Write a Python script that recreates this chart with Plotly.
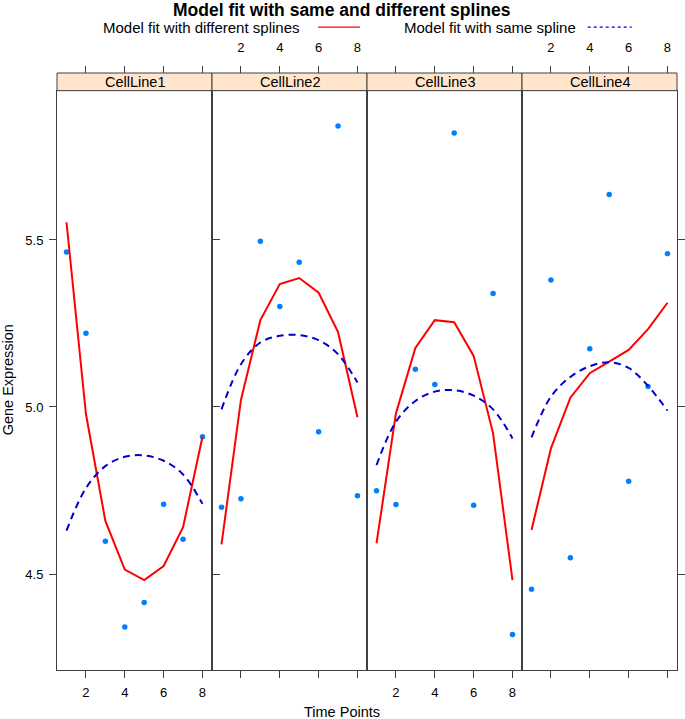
import plotly.graph_objects as go

# values
time_points = [1, 2, 3, 4, 5, 6, 7, 8]
cell_lines = ["CellLine1", "CellLine2", "CellLine3", "CellLine4"]

observed_cl1 = [5.464, 5.221, 4.598, 4.341, 4.415, 4.709, 4.604, 4.911]
observed_cl2 = [4.700, 4.725, 5.496, 5.301, 5.433, 4.926, 5.841, 4.734]
observed_cl3 = [4.749, 4.708, 5.113, 5.067, 5.820, 4.706, 5.340, 4.319]
observed_cl4 = [4.454, 5.380, 4.549, 5.174, 5.636, 4.778, 5.061, 5.459]

diff_fit_cl1 = [5.553, 4.979, 4.659, 4.513, 4.482, 4.524, 4.640, 4.911]
diff_fit_cl2 = [4.589, 5.021, 5.260, 5.368, 5.386, 5.342, 5.224, 4.969]
diff_fit_cl3 = [4.592, 4.981, 5.177, 5.260, 5.254, 5.153, 4.921, 4.482]
diff_fit_cl4 = [4.632, 4.876, 5.028, 5.101, 5.136, 5.171, 5.233, 5.312]

same_fit_cl1 = [4.630, 4.757, 4.823, 4.851, 4.855, 4.839, 4.798, 4.710]
same_fit_cl2 = [4.993, 5.128, 5.193, 5.213, 5.215, 5.200, 5.158, 5.073]
same_fit_cl3 = [4.826, 4.956, 5.018, 5.046, 5.050, 5.034, 4.993, 4.906]
same_fit_cl4 = [4.909, 5.031, 5.090, 5.122, 5.134, 5.117, 5.063, 4.989]

x_ticks = [2, 4, 6, 8]
y_ticks = [4.5, 5.0, 5.5]
y_tick_labels = ["4.5", "5.0", "5.5"]

observed = [observed_cl1, observed_cl2, observed_cl3, observed_cl4]
diff_fit = [diff_fit_cl1, diff_fit_cl2, diff_fit_cl3, diff_fit_cl4]
same_fit = [same_fit_cl1, same_fit_cl2, same_fit_cl3, same_fit_cl4]

FONT = "Liberation Sans, Arial, sans-serif"
FRAME = "#404040"
X_RANGE = [0.51, 8.49]
Y_RANGE = [4.2126, 5.947]
PANEL_TOP = 0.9704  # strip sits above this, up to paper y = 1


def axis_name(i: int) -> str:
    return "x" if i == 1 else f"x{i}"


def base_xaxis(domain: list, show_labels: bool) -> dict:
    return dict(
        domain=domain, range=X_RANGE, tickvals=x_ticks, ticks="outside",
        ticklen=7, tickcolor=FRAME, showticklabels=show_labels,
        showline=True, linecolor=FRAME, linewidth=1, mirror=True,
        showgrid=False, zeroline=False, anchor="y", ticklabelstandoff=3,
        automargin=False, tickfont=dict(size=13, color="black"),
    )


def label(text, x, y, size, **kw):
    fig.add_annotation(
        text=text, xref="paper", yref="paper", x=x, y=y, showarrow=False,
        yanchor="middle", font=dict(size=size, color="black", family=FONT), **kw
    )


fig = go.Figure()

n = len(cell_lines)
for k in range(n):
    xa = axis_name(k + 1)
    fig.add_trace(go.Scatter(
        x=time_points, y=observed[k], xaxis=xa, yaxis="y", mode="markers",
        marker=dict(color="#0080ff", size=5.5), showlegend=False,
    ))
    fig.add_trace(go.Scatter(
        x=time_points, y=diff_fit[k], xaxis=xa, yaxis="y", mode="lines",
        line=dict(color="#ff0000", width=2), showlegend=False,
    ))
    fig.add_trace(go.Scatter(
        x=time_points, y=same_fit[k], xaxis=xa, yaxis="y", mode="lines",
        line=dict(color="#0000cc", width=2, dash="7px,5px", shape="spline"),
        showlegend=False,
    ))

layout_axes = {}
for k in range(n):
    dom = [k / n, (k + 1) / n]
    # bottom labels on panels 1 and 3, top labels on 2 and 4
    layout_axes["xaxis" if k == 0 else f"xaxis{k + 1}"] = base_xaxis(dom, k % 2 == 0)
    top_id = n + k + 1
    layout_axes[f"xaxis{top_id}"] = dict(
        overlaying=axis_name(k + 1), side="top", anchor="free", position=1.0,
        range=X_RANGE, tickvals=x_ticks, ticks="outside", ticklen=7,
        tickcolor=FRAME, showticklabels=(k % 2 == 1), showline=False,
        showgrid=False, zeroline=False, ticklabelstandoff=9, automargin=False,
        tickfont=dict(size=13, color="black"),
    )
    # invisible trace so the top axis is drawn
    fig.add_trace(go.Scatter(
        x=[None], y=[None], xaxis=f"x{top_id}", yaxis="y",
        mode="markers", showlegend=False, hoverinfo="skip",
    ))

fig.add_trace(go.Scatter(
    x=[None], y=[None], xaxis=axis_name(n), yaxis="y2",
    mode="markers", showlegend=False, hoverinfo="skip",
))

fig.update_layout(
    width=685, height=719,
    margin=dict(l=57, r=8, t=73, b=49),
    paper_bgcolor="white", plot_bgcolor="white",
    font=dict(family=FONT, size=13, color="black"),
    showlegend=False,
    yaxis=dict(
        domain=[0, PANEL_TOP], range=Y_RANGE, tickvals=y_ticks,
        ticktext=y_tick_labels, ticks="outside", ticklen=7, tickcolor=FRAME,
        showline=True, linecolor=FRAME, linewidth=1, mirror="all",
        showgrid=False, zeroline=False, anchor="x", ticklabelstandoff=3,
        automargin=False, tickfont=dict(size=13, color="black"),
    ),
    yaxis2=dict(
        overlaying="y", side="right", anchor=axis_name(n), range=Y_RANGE,
        tickvals=y_ticks, ticks="outside", ticklen=7, tickcolor=FRAME,
        showticklabels=False, showline=False, showgrid=False, zeroline=False,
        automargin=False,
    ),
    **layout_axes,
)

# strips with the cell line names
for k, name in enumerate(cell_lines):
    fig.add_shape(
        type="rect", xref="paper", yref="paper",
        x0=k / n, x1=(k + 1) / n, y0=PANEL_TOP, y1=1.0,
        fillcolor="#ffe5cc", line=dict(color=FRAME, width=1), layer="above",
    )
    label(name, (k + 0.5) / n, (1.0 + PANEL_TOP) / 2, 14.5, xanchor="center")

# title and key on top
label("<b>Model fit with same and different splines</b>", 0.4597, 1.1055, 17.5,
      xanchor="center")
label("Model fit with different splines", 0.395, 1.077, 15, xanchor="right")
fig.add_shape(
    type="line", xref="paper", yref="paper", x0=0.421, x1=0.4887,
    y0=1.077, y1=1.077, line=dict(color="#ff0000", width=1.2),
)
label("Model fit with same spline", 0.5565, 1.077, 15, xanchor="left")
fig.add_shape(
    type="line", xref="paper", yref="paper", x0=0.856, x1=0.927,
    y0=1.077, y1=1.077, line=dict(color="#0000cc", width=1.2, dash="3px,3px"),
)

# axis titles
label("Time Points", 0.4597, -0.0704, 14.5, xanchor="center")
label("Gene Expression", -0.079, PANEL_TOP / 2, 14.5, xanchor="center",
      textangle=-90)

fig.write_html(
    "out.html",
    config={"displayModeBar": False},
    post_script="document.body.style.margin='0px';"
                "document.body.style.overflow='hidden';",
)
